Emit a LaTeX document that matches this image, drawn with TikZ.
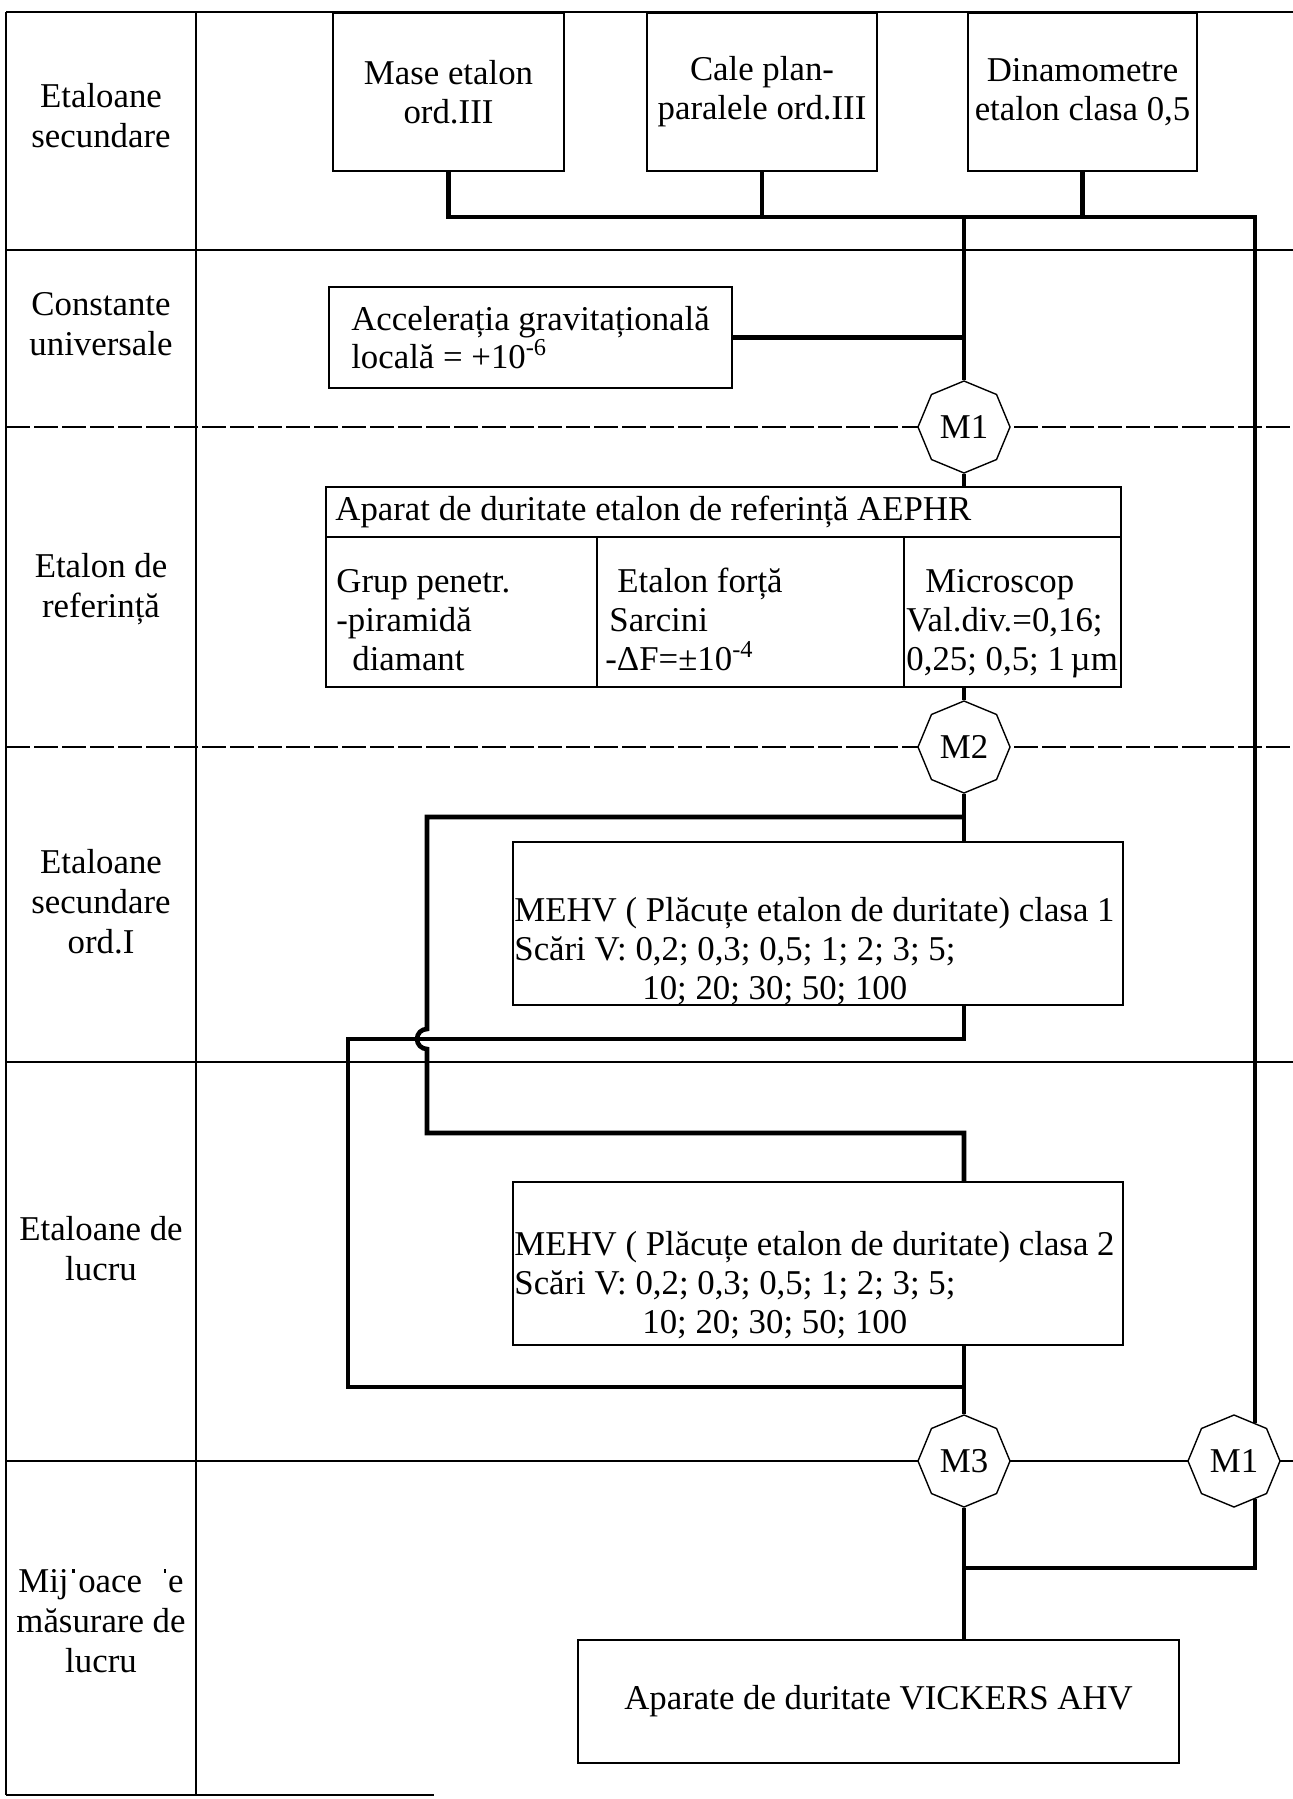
\documentclass[tikz,border=0pt]{standalone}
\usepackage{fontspec}
\setmainfont{Liberation Serif}
\usetikzlibrary{shapes.geometric}
\newcommand{\tickl}{\makebox[0.278em]{\rule[0.55em]{0.07em}{0.12em}}}
\newcommand{\tickd}{\makebox[0.5em][r]{\rule[0.55em]{0.07em}{0.12em}\hspace{0.06em}}}
\begin{document}
\begin{tikzpicture}[x=0.5pt,y=-0.5pt,
  font=\fontsize{17.4}{19.5}\selectfont,
  every node/.style={inner sep=0pt},
  gridline/.style={line width=0.75pt},
  gridbroken/.style={line width=0.75pt, dash pattern=on 12pt off 2pt},
  box/.style={draw, line width=0.7pt, align=center},
  txt/.style={anchor=base west, align=left},
  lab/.style={anchor=base, align=center, font=\fontsize{17.4}{20}\selectfont},
  oct/.style={draw, fill=white, line width=0.7pt, regular polygon, regular polygon sides=8, shape border rotate=22.5, minimum size=46pt},
  conn/.style={line width=2.3pt}]
\useasboundingbox (0,0) rectangle (1293,1799);
% grid
\draw[gridline] (6,12) -- (1293,12);
\draw[gridline] (6,12) -- (6,1795);
\draw[gridline] (196,12) -- (196,1795);
\draw[gridline] (6,250) -- (1293,250);
\draw[gridbroken] (6,427) -- (1293,427);
\draw[gridbroken] (6,747) -- (1293,747);
\draw[gridline] (6,1062) -- (1293,1062);
\draw[gridline] (6,1461) -- (1293,1461);
\draw[gridline] (6,1795) -- (434,1795);
% row labels (anchored at the baseline of the last line)
\node[lab] (l1) at (101,147) {Etaloane\\secundare};
\node[lab] (l2) at (101,355) {Constante\\universale};
\node[lab] (l3) at (101,617) {Etalon de\\referință};
\node[lab] (l4) at (101,953) {Etaloane\\secundare\\ord.I};
\node[lab] (l5) at (101,1280) {Etaloane de\\lucru};
\node[lab] (l6) at (101,1672) {Mij\tickl oace \tickd e\\măsurare de\\lucru};
% boxes
\node[box, minimum width=115.5pt, minimum height=79pt] (mase) at (448.5,92) {Mase etalon\\ord.III};
\node[box, minimum width=115pt, minimum height=79pt] (cale) at (762,92) {Cale plan-\\paralele ord.III};
\node[box, minimum width=114.5pt, minimum height=79pt] (dinam) at (1082.5,92) {Dinamometre\\etalon clasa 0,5};
\node[box, minimum width=201.5pt, minimum height=50.5pt, align=left, font=\fontsize{17.4}{16}\selectfont] (accel) at (530.5,337.5) {Accelerația gravitațională\\locală = +10\textsuperscript{-6}};
\node[box, minimum width=397.5pt, minimum height=25pt] (aptitle) at (723.5,512) {};
\node[anchor=west] (aptitlet) at (335,512) {Aparat de duritate etalon de referință AEPHR};
\node[box, minimum width=135.5pt, minimum height=75pt] (c1) at (461.5,612) {};
\node[box, minimum width=153.5pt, minimum height=75pt] (c2) at (750.5,612) {};
\node[box, minimum width=108.5pt, minimum height=75pt] (c3) at (1012.5,612) {};
\node[txt] (c1t) at (336,670) {Grup penetr.\\-piramidă\\\hspace*{8pt}diamant};
\node[txt] (c2t) at (605,670) {\hspace*{6pt}Etalon forță\\\hspace*{2pt}Sarcini\\-ΔF=±10\textsuperscript{-4}};
\node[txt] (c3t) at (906,670) {\hspace*{9.5pt}Microscop\\Val.div.=0,16;\\0,25; 0,5; 1\,µm};
\node[box, minimum width=305pt, minimum height=81.5pt] (mehv1) at (818,923.5) {};
\node[txt] (mehv1t) at (514,999) {MEHV ( Plăcuțe etalon de duritate) clasa 1\\Scări V: 0,2; 0,3; 0,5; 1; 2; 3; 5;\\\hspace*{64pt}10; 20; 30; 50; 100};
\node[box, minimum width=305pt, minimum height=81.5pt] (mehv2) at (818,1263.5) {};
\node[txt] (mehv2t) at (514,1333) {MEHV ( Plăcuțe etalon de duritate) clasa 2\\Scări V: 0,2; 0,3; 0,5; 1; 2; 3; 5;\\\hspace*{64pt}10; 20; 30; 50; 100};
\node[box, minimum width=300.5pt, minimum height=61.5pt] (vick) at (878.5,1701.5) {Aparate de duritate VICKERS AHV};
% octagons
\node[oct] (M1) at (964,427) {M1};
\node[oct] (M2) at (964,747) {M2};
\node[oct] (M3) at (964,1461) {M3};
\node[oct] (M1b) at (1234,1461) {M1};
% connectors
\draw[conn] (mase.south) |- (M1b.61 |- 0,217) -- (M1b.61);
\draw[conn] (cale.south) -- (cale.south |- 0,217);
\draw[conn] (dinam.south) -- (dinam.south |- 0,217);
\draw[conn] (M1.90 |- 0,217) -- (M1.90);
\draw[conn] (accel.east) -- (accel.east -| M1.90);
\draw[conn] (M1.270) -- (M1.270 |- aptitle.north);
\draw[conn] (M1.270 |- c3.south) -- (M2.90);
\draw[conn] (M2.270) -- (M2.270 |- mehv1.north);
\draw[conn] (M2.270 |- 0,817) -- (427,817) -- (427,1029) arc[start angle=90, end angle=270, radius=5pt] -- (427,1133) -- (M2.270 |- 0,1133) -- (M2.270 |- mehv2.north);
\draw[conn] (M2.270 |- mehv1.south) -- (M2.270 |- 0,1039) -- (348,1039) -- (348,1387) -- (M3.90 |- 0,1387);
\draw[conn] (M3.90 |- mehv2.south) -- (M3.90);
\draw[conn] (M3.270) -- (M3.270 |- vick.north);
\draw[conn] (M1b.-61) -- (M1b.-61 |- 0,1568) -- (M3.270 |- 0,1568);
\end{tikzpicture}
\end{document}
